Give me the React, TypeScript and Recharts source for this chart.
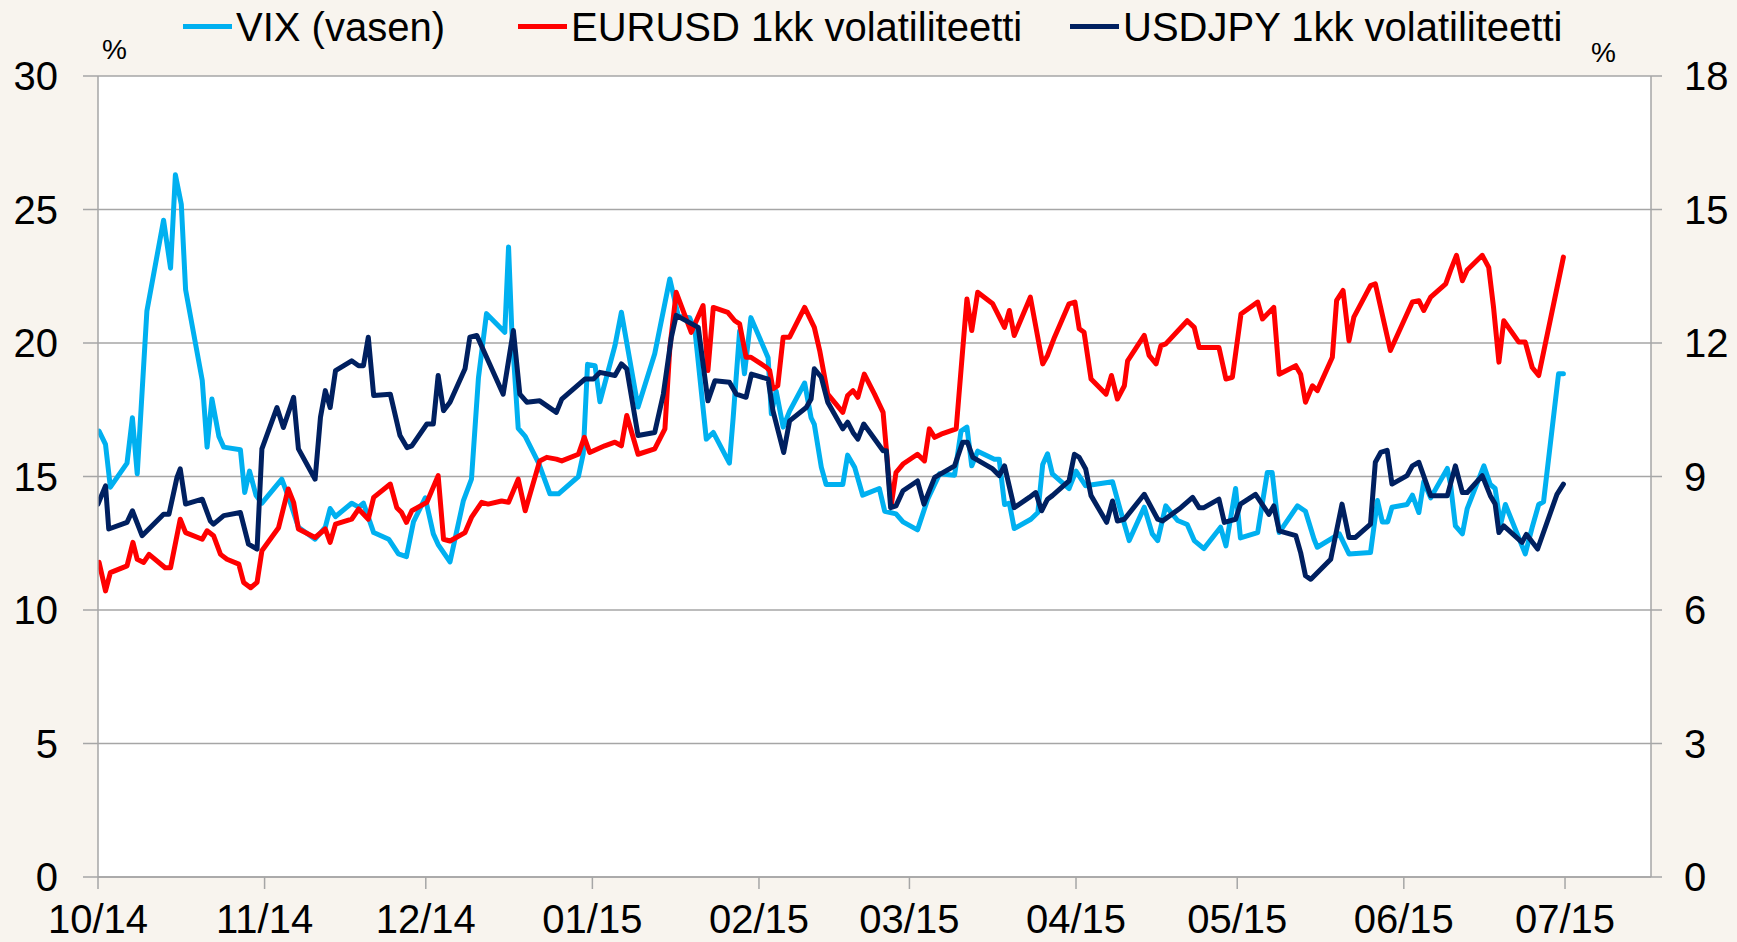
import React from "react";
import { LineChart, Line, XAxis, YAxis, CartesianGrid } from "recharts";

// x = days since 1 Oct 2014
const monthTickDays = [0, 31, 61, 92, 123, 151, 182, 212, 243, 273];
const monthTickLabels = ["10/14", "11/14", "12/14", "01/15", "02/15", "03/15", "04/15", "05/15", "06/15", "07/15"];
const leftTicks = [0, 5, 10, 15, 20, 25, 30];
const rightTicks = [0, 3, 6, 9, 12, 15, 18];

// VIX (left axis)
const vixDays = [0.2, 1.4, 2.3, 5.4, 6.4, 7.3, 9.1, 12.2, 13.5, 14.4, 15.5, 16.3, 19.4, 20.3, 21.2, 22.5, 23.4, 26.5, 27.3, 28.2, 29.4, 30.5, 34.2, 35.5, 37.3, 40.4, 42.3, 43.2, 44.2, 47.2, 48.5, 49.4, 51.3, 54.1, 55.9, 57.4, 58.7, 60.9, 62.4, 63.3, 65.5, 68.0, 69.5, 70.8, 72.3, 75.7, 76.4, 77.0, 78.2, 79.5, 82.0, 84.1, 85.7, 89.4, 90.3, 91.1, 92.5, 93.4, 96.2, 97.4, 100.5, 103.6, 106.4, 108.0, 110.1, 111.1, 113.2, 114.5, 117.5, 118.2, 119.4, 120.3, 121.5, 124.7, 125.3, 126.2, 127.5, 128.7, 131.5, 132.7, 133.3, 134.6, 135.5, 138.6, 139.5, 140.8, 142.3, 145.4, 146.4, 148.5, 149.8, 152.5, 154.4, 156.6, 159.4, 160.6, 161.7, 162.6, 163.7, 166.8, 167.7, 168.7, 169.6, 170.5, 173.6, 174.9, 175.8, 176.7, 177.6, 180.7, 182.0, 183.8, 188.8, 190.3, 191.9, 194.7, 196.2, 197.2, 198.7, 200.9, 202.7, 204.0, 205.8, 208.9, 209.9, 211.7, 212.6, 215.8, 217.6, 218.5, 219.8, 223.2, 224.7, 226.3, 226.9, 231.0, 232.8, 236.8, 238.1, 239.0, 240.0, 240.8, 243.6, 244.6, 245.8, 246.7, 248.0, 251.1, 251.7, 252.6, 253.9, 254.8, 257.9, 259.1, 260.0, 261.0, 261.9, 265.6, 266.9, 268.1, 269.0, 271.8, 272.7];
const vixValues = [16.7, 16.2, 14.6, 15.5, 17.2, 15.1, 21.2, 24.6, 22.8, 26.3, 25.2, 22.0, 18.6, 16.1, 17.9, 16.5, 16.1, 16.0, 14.4, 15.2, 14.3, 14.0, 14.9, 14.2, 13.1, 12.65, 13.1, 13.8, 13.5, 14.0, 13.85, 14.0, 12.9, 12.65, 12.1, 12.0, 13.3, 14.2, 12.85, 12.45, 11.8, 14.1, 14.9, 18.7, 21.1, 20.4, 23.6, 20.5, 16.8, 16.5, 15.5, 14.35, 14.35, 15.0, 15.85, 19.2, 19.15, 17.8, 19.9, 21.15, 17.6, 19.6, 22.4, 21.0, 20.95, 20.45, 16.4, 16.65, 15.5, 17.2, 20.45, 18.85, 20.95, 19.45, 17.35, 18.2, 16.85, 17.45, 18.5, 17.2, 16.95, 15.35, 14.7, 14.7, 15.8, 15.35, 14.3, 14.55, 13.7, 13.6, 13.3, 13.0, 14.15, 15.1, 15.05, 16.7, 16.85, 15.4, 15.95, 15.65, 15.65, 13.95, 14.0, 13.05, 13.4, 13.65, 15.45, 15.85, 15.1, 14.55, 15.2, 14.65, 14.8, 13.7, 12.6, 13.85, 12.85, 12.6, 13.9, 13.35, 13.2, 12.6, 12.3, 13.1, 12.4, 14.55, 12.7, 12.9, 15.15, 15.15, 12.9, 13.9, 13.7, 12.65, 12.35, 12.85, 12.1, 12.15, 14.1, 13.3, 13.3, 13.85, 13.95, 14.3, 13.65, 14.8, 14.2, 15.3, 14.7, 13.15, 12.85, 13.8, 15.4, 14.7, 14.55, 13.2, 13.95, 12.1, 13.1, 13.95, 14.05, 18.85, 18.85];

// EURUSD 1kk volatiliteetti (right axis)
const eurDays = [0.2, 1.4, 2.3, 5.4, 6.5, 7.3, 8.5, 9.5, 12.5, 13.5, 15.3, 16.3, 19.4, 20.3, 21.5, 22.8, 24.0, 26.2, 27.1, 28.4, 29.6, 30.5, 33.6, 35.4, 36.4, 37.3, 40.4, 42.3, 43.2, 44.2, 47.2, 48.5, 50.3, 51.3, 54.4, 55.6, 56.5, 57.4, 58.4, 61.2, 63.3, 64.3, 65.5, 68.3, 69.5, 71.4, 72.6, 75.1, 76.4, 78.2, 79.5, 82.2, 83.5, 85.3, 86.3, 89.4, 90.5, 91.5, 94.3, 96.2, 97.4, 98.4, 100.5, 103.6, 105.5, 106.4, 107.6, 110.4, 112.6, 113.5, 114.5, 117.2, 118.5, 119.4, 120.6, 121.5, 124.4, 125.0, 125.6, 126.5, 127.5, 128.7, 131.5, 133.3, 134.3, 135.8, 138.6, 139.5, 140.5, 141.4, 142.6, 144.5, 146.1, 146.7, 147.6, 148.5, 149.8, 152.5, 153.8, 154.7, 155.7, 156.9, 159.7, 160.9, 161.7, 162.6, 163.7, 166.5, 168.7, 169.6, 170.5, 173.5, 175.8, 176.7, 178.0, 180.7, 181.8, 182.6, 183.5, 184.8, 187.6, 188.6, 189.7, 191.0, 191.6, 194.7, 195.6, 196.9, 197.8, 198.7, 202.7, 204.0, 204.9, 208.6, 209.9, 211.1, 212.7, 215.8, 216.7, 218.8, 219.8, 222.9, 223.8, 224.7, 226.0, 226.9, 229.7, 230.5, 231.7, 232.8, 233.7, 236.8, 237.7, 240.5, 244.6, 245.8, 246.7, 248.0, 250.8, 251.7, 252.8, 253.9, 254.8, 257.6, 258.8, 259.7, 260.7, 261.6, 264.4, 265.6, 266.9, 268.1, 272.7];
const eurValues = [7.07, 6.43, 6.84, 6.99, 7.52, 7.14, 7.07, 7.25, 6.95, 6.95, 8.04, 7.74, 7.59, 7.78, 7.67, 7.25, 7.14, 7.03, 6.62, 6.5, 6.62, 7.33, 7.85, 8.72, 8.42, 7.82, 7.63, 7.82, 7.52, 7.93, 8.04, 8.27, 8.04, 8.53, 8.83, 8.3, 8.19, 7.97, 8.23, 8.42, 9.02, 7.59, 7.55, 7.74, 8.08, 8.42, 8.38, 8.45, 8.42, 8.94, 8.23, 9.35, 9.43, 9.39, 9.35, 9.5, 9.88, 9.54, 9.69, 9.77, 9.69, 10.37, 9.5, 9.62, 10.07, 11.87, 13.14, 12.24, 12.84, 11.38, 12.8, 12.69, 12.5, 12.43, 11.68, 11.68, 11.45, 11.38, 10.97, 11.04, 12.13, 12.13, 12.8, 12.35, 11.83, 10.85, 10.44, 10.82, 10.93, 10.78, 11.3, 10.85, 10.44, 9.62, 8.34, 9.09, 9.28, 9.5, 9.35, 10.07, 9.88, 9.95, 10.07, 11.83, 12.99, 12.28, 13.14, 12.88, 12.35, 12.73, 12.17, 13.03, 11.53, 11.72, 12.13, 12.88, 12.92, 12.32, 12.24, 11.19, 10.85, 11.27, 10.74, 11.04, 11.6, 12.17, 11.72, 11.53, 11.94, 11.98, 12.5, 12.35, 11.9, 11.9, 11.19, 11.23, 12.65, 12.92, 12.54, 12.8, 11.3, 11.49, 11.3, 10.67, 11.04, 10.93, 11.68, 12.96, 13.18, 12.05, 12.58, 13.29, 13.33, 11.83, 12.92, 12.95, 12.73, 13.03, 13.33, 13.63, 13.97, 13.4, 13.64, 13.97, 13.7, 12.8, 11.57, 12.5, 12.02, 12.02, 11.45, 11.27, 13.93];

// USDJPY 1kk volatiliteetti (right axis)
const jpyDays = [0, 1.4, 2.0, 5.4, 6.4, 8.2, 12.2, 13.2, 14.7, 15.3, 16.3, 19.4, 20.9, 21.5, 23.4, 26.5, 28.0, 29.6, 30.5, 33.3, 34.5, 36.4, 37.3, 40.4, 41.4, 42.3, 43.2, 44.2, 47.2, 48.5, 49.4, 50.3, 51.3, 54.4, 56.2, 57.5, 58.4, 61.2, 62.4, 63.3, 64.3, 65.5, 68.3, 69.2, 70.5, 75.4, 77.3, 78.5, 79.8, 82.2, 85.3, 86.3, 90.6, 92.2, 93.4, 96.2, 97.4, 98.4, 100.5, 103.6, 105.2, 106.7, 107.6, 111.7, 113.5, 114.8, 117.5, 118.8, 120.6, 121.6, 124.7, 125.6, 127.6, 128.7, 131.8, 132.7, 133.3, 134.6, 135.8, 138.6, 139.5, 140.5, 141.4, 142.5, 146.1, 146.7, 147.5, 148.5, 149.8, 152.5, 153.7, 155.7, 159.4, 160.9, 161.8, 162.8, 166.5, 167.7, 168.7, 170.5, 173.3, 174.5, 175.6, 176.7, 177.6, 180.7, 181.7, 182.6, 183.8, 184.8, 187.7, 188.8, 189.7, 191.0, 194.7, 197.2, 198.1, 201.5, 203.7, 204.9, 205.8, 208.6, 209.6, 211.7, 212.6, 215.4, 217.9, 218.8, 219.8, 222.9, 223.8, 224.7, 225.7, 229.4, 231.5, 232.8, 234.0, 236.8, 237.7, 238.7, 239.9, 240.8, 243.6, 244.6, 245.8, 248.0, 251.1, 252.6, 253.9, 254.8, 257.6, 259.1, 260.0, 260.7, 261.6, 265.0, 265.8, 267.9, 271.5, 272.7];
const jpyValues = [8.38, 8.79, 7.82, 7.97, 8.23, 7.67, 8.15, 8.15, 8.98, 9.17, 8.38, 8.49, 8.0, 7.93, 8.12, 8.19, 7.48, 7.37, 9.62, 10.55, 10.1, 10.78, 9.62, 8.94, 10.33, 10.93, 10.55, 11.38, 11.6, 11.49, 11.49, 12.13, 10.82, 10.85, 9.92, 9.65, 9.69, 10.18, 10.18, 11.27, 10.48, 10.67, 11.42, 12.13, 12.17, 10.85, 12.28, 10.85, 10.67, 10.7, 10.44, 10.74, 11.19, 11.19, 11.34, 11.27, 11.53, 11.42, 9.92, 9.99, 10.85, 12.13, 12.62, 12.35, 10.7, 11.15, 11.12, 10.85, 10.78, 11.3, 11.19, 10.48, 9.54, 10.25, 10.55, 10.74, 11.42, 11.23, 10.67, 10.07, 10.22, 9.99, 9.84, 10.18, 9.58, 9.58, 8.3, 8.34, 8.68, 8.9, 8.38, 8.98, 9.24, 9.77, 9.77, 9.43, 9.17, 9.02, 9.24, 8.3, 8.53, 8.64, 8.23, 8.49, 8.57, 8.9, 9.5, 9.43, 9.17, 8.57, 7.97, 8.45, 8.0, 8.04, 8.6, 8.04, 8.0, 8.3, 8.53, 8.3, 8.3, 8.49, 7.97, 8.04, 8.38, 8.6, 8.15, 8.34, 7.78, 7.67, 7.29, 6.77, 6.69, 7.14, 8.38, 7.63, 7.63, 7.93, 9.32, 9.54, 9.59, 8.83, 9.02, 9.24, 9.32, 8.57, 8.57, 9.24, 8.64, 8.64, 9.02, 8.57, 8.38, 7.74, 7.89, 7.52, 7.7, 7.37, 8.6, 8.83];

const toRows = (days: number[], vals: number[]) => days.map((d, i) => ({ day: d, v: vals[i] }));
const vixData = toRows(vixDays, vixValues);
const eurData = toRows(eurDays, eurValues);
const jpyData = toRows(jpyDays, jpyValues);

const W = 1737;
const H = 942;
const BG = "#F8F4EE";
const GRID = "#A6A6A6";
const FONT = "'Liberation Sans', Arial, sans-serif";
const VIX_C = "#00B0F0";
const EUR_C = "#FF0000";
const JPY_C = "#002060";
const LW = 5;

const tickStyle = { fill: "#000", fontSize: 40, fontFamily: FONT };

const legendItems = [
  { label: "VIX (vasen)", color: VIX_C, x: 183 },
  { label: "EURUSD 1kk volatiliteetti", color: EUR_C, x: 518 },
  { label: "USDJPY 1kk volatiliteetti", color: JPY_C, x: 1070 },
];

export default function App() {
  const labelFor = (d: number) => {
    const i = monthTickDays.indexOf(d);
    return i >= 0 ? monthTickLabels[i] : "";
  };
  return (
    <div style={{ position: "absolute", left: 0, top: 0, width: W, height: H, background: BG, overflow: "hidden", fontFamily: FONT }}>
      <LineChart width={W} height={H} margin={{ top: 76, right: 0, bottom: 0, left: 0 }}>
        <CartesianGrid yAxisId="left" vertical={false} horizontal={true} stroke={GRID} strokeWidth={1.5} fill="#FFFFFF" />
        <XAxis
          type="number"
          dataKey="day"
          domain={[0, 289]}
          ticks={monthTickDays}
          interval={0}
          tickFormatter={labelFor}
          height={65}
          tick={tickStyle}
          tickSize={12}
          tickMargin={16}
          axisLine={{ stroke: GRID, strokeWidth: 1.5 }}
          tickLine={{ stroke: GRID, strokeWidth: 1.5 }}
          allowDataOverflow
        />
        <YAxis
          yAxisId="left"
          domain={[0, 30]}
          ticks={leftTicks}
          interval={0}
          width={98}
          tick={tickStyle}
          tickSize={15}
          tickMargin={25}
          axisLine={{ stroke: GRID, strokeWidth: 1.5 }}
          tickLine={{ stroke: GRID, strokeWidth: 1.5 }}
        />
        <YAxis
          yAxisId="right"
          orientation="right"
          domain={[0, 18]}
          ticks={rightTicks}
          interval={0}
          width={86}
          tick={tickStyle}
          tickSize={11}
          tickMargin={22}
          axisLine={{ stroke: GRID, strokeWidth: 1.5 }}
          tickLine={{ stroke: GRID, strokeWidth: 1.5 }}
        />
        <Line data={vixData} dataKey="v" yAxisId="left" type="linear" stroke={VIX_C} strokeWidth={LW} dot={false} activeDot={false} isAnimationActive={false} strokeLinejoin="round" strokeLinecap="round" name="VIX (vasen)" />
        <Line data={eurData} dataKey="v" yAxisId="right" type="linear" stroke={EUR_C} strokeWidth={LW} dot={false} activeDot={false} isAnimationActive={false} strokeLinejoin="round" strokeLinecap="round" name="EURUSD 1kk volatiliteetti" />
        <Line data={jpyData} dataKey="v" yAxisId="right" type="linear" stroke={JPY_C} strokeWidth={LW} dot={false} activeDot={false} isAnimationActive={false} strokeLinejoin="round" strokeLinecap="round" name="USDJPY 1kk volatiliteetti" />
      </LineChart>
      {legendItems.map((it) => (
        <React.Fragment key={it.label}>
          <div style={{ position: "absolute", left: it.x, top: 24, width: 49, height: 5, background: it.color }} />
          <div style={{ position: "absolute", left: it.x + 53, top: 7, fontSize: 40, lineHeight: "40px", color: "#000", whiteSpace: "nowrap" }}>{it.label}</div>
        </React.Fragment>
      ))}
      <div style={{ position: "absolute", left: 102, top: 36, fontSize: 28, lineHeight: "28px", color: "#000" }}>%</div>
      <div style={{ position: "absolute", left: 1591, top: 39, fontSize: 28, lineHeight: "28px", color: "#000" }}>%</div>
    </div>
  );
}
